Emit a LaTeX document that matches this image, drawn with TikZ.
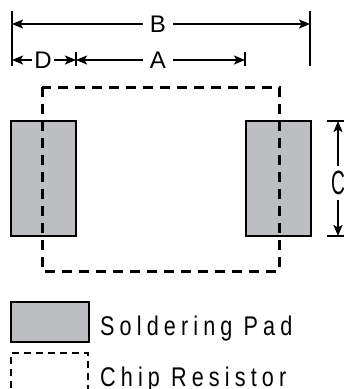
\documentclass[tikz,border=0pt]{standalone}
\usepackage{fontspec}
\setmainfont{Liberation Sans}
\newfontfamily\legendfont{Liberation Sans}[FakeStretch=0.8,LetterSpace=19]
\usetikzlibrary{arrows.meta}
\definecolor{padgray}{RGB}{189,190,194}

\begin{document}
\begin{tikzpicture}[x=1pt,y=-1pt,
    dimline/.style={line width=1.6pt, -{Stealth[length=11pt,width=9pt,inset=2.5pt]}},
    tickline/.style={line width=1.8pt},
    dimlabel/.style={font=\fontsize{24}{24}\selectfont, inner sep=0pt, minimum width=30pt, minimum height=20pt},
    pad/.style={draw, fill=padgray, line width=2.2pt},
    chip/.style={draw, dash pattern=on 10pt off 7pt, line width=3pt},
    legendtext/.style={font=\fontsize{27}{27}\legendfont, anchor=base west, inner sep=0pt}]
    \useasboundingbox (0,0) rectangle (344,389);

    % pads and chip outline
    \draw[pad] (11,121) rectangle (76,236);
    \draw[pad] (246,121) rectangle (311,236);
    \draw[chip] (42,87) rectangle (279,271);

    % ticks
    \coordinate (tl1) at (12,11);   \coordinate (tl2) at (12,66);
    \coordinate (tr1) at (310,11);  \coordinate (tr2) at (310,66);
    \coordinate (td1) at (76,52);   \coordinate (td2) at (76,66);
    \coordinate (ta1) at (245,52);  \coordinate (ta2) at (245,66);
    \coordinate (tc1) at (327,121); \coordinate (tc2) at (344,121);
    \coordinate (tc3) at (327,236); \coordinate (tc4) at (344,236);
    \draw[tickline] (tl1) -- (tl2);
    \draw[tickline] (tr1) -- (tr2);
    \draw[tickline] (td1) -- (td2);
    \draw[tickline] (ta1) -- (ta2);
    \draw[tickline] (tc1) -- (tc2);
    \draw[tickline] (tc3) -- (tc4);

    % B
    \node[dimlabel] (labB) at (158,24) {B};
    \draw[dimline] (labB) -- (12,24);
    \draw[dimline] (labB) -- (310,24);
    % D
    \node[dimlabel, minimum width=22pt] (labD) at (43,60) {D};
    \draw[dimline] (labD) -- (12,60);
    \draw[dimline] (labD) -- (76,60);
    % A
    \node[dimlabel] (labA) at (158,60) {A};
    \draw[dimline] (labA) -- (76,60);
    \draw[dimline] (labA) -- (245,60);
    % C
    \node[dimlabel, xscale=0.8, yscale=1.4, minimum width=14pt, minimum height=24pt] (labC) at (338,183) {C};
    \draw[dimline] (labC) -- (338,121);
    \draw[dimline] (labC) -- (338,236);

    % legend
    \draw[pad] (11,302) rectangle (89,342);
    \draw[line width=1.2pt, dash pattern=on 7pt off 5pt] (11,400) -- (11,353) -- (88,353) -- (88,400);
    \node[legendtext] (legpad) at (100,335) {Soldering Pad};
    \node[legendtext] (legchip) at (100,386) {Chip Resistor};
\end{tikzpicture}
\end{document}
